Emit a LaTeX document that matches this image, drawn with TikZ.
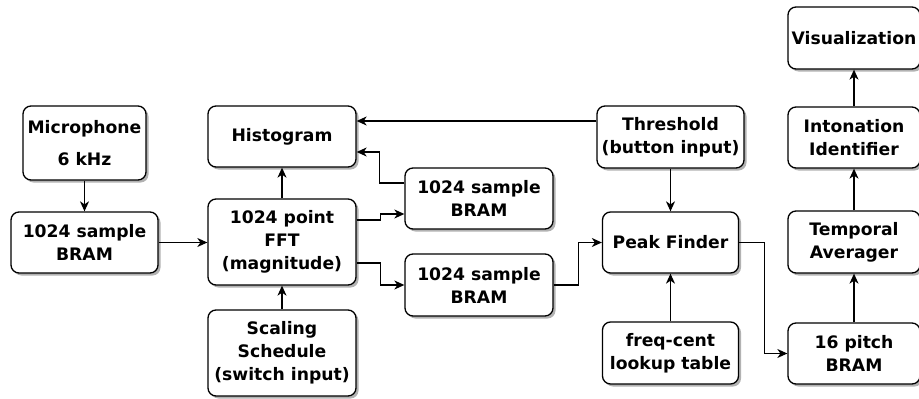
\documentclass[tikz,border=0pt]{standalone}
\usepackage{fontspec}
\setmainfont{DejaVu Sans}
\usetikzlibrary{arrows.meta,shadows}
\begin{document}
\begin{tikzpicture}[x=1pt,y=-1pt,
  blk/.style={draw=black,line width=1.3pt,rounded corners=8pt,fill=white,
    align=center,inner sep=0pt,
    font=\fontsize{17.2}{23}\selectfont\bfseries,
    drop shadow={shadow xshift=2.5pt,shadow yshift=-2.5pt,opacity=0.3,fill=black}},
  arr/.style={line width=1.2pt,-{Stealth[length=10pt,width=9pt,inset=3pt]}}]
\useasboundingbox (0,0) rectangle (919,399);
\node[blk,minimum width=123pt,minimum height=74pt] (mic) at (84.5,143) {Microphone\\[9pt]6 kHz};
\node[blk,minimum width=147pt,minimum height=61pt] (bramL) at (84.5,242.5) {1024 sample\\BRAM};
\node[blk,minimum width=148pt,minimum height=61pt] (hist) at (282,136.5) {Histogram};
\node[blk,minimum width=148pt,minimum height=86pt] (fft) at (282,242) {1024 point\\FFT\\(magnitude)};
\node[blk,minimum width=148pt,minimum height=86pt] (scal) at (282,353) {Scaling\\Schedule\\(switch input)};
\node[blk,minimum width=148pt,minimum height=61pt] (bramA) at (479,198.5) {1024 sample\\BRAM};
\node[blk,minimum width=148pt,minimum height=62pt] (bramB) at (479,285) {1024 sample\\BRAM};
\node[blk,minimum width=147pt,minimum height=62pt] (thr) at (670.5,137) {Threshold\\(button input)};
\node[blk,minimum width=136pt,minimum height=61pt] (peak) at (670.5,242.5) {Peak Finder};
\node[blk,minimum width=136pt,minimum height=62pt] (freq) at (670.5,353) {freq-cent\\lookup table};
\node[blk,minimum width=132pt,minimum height=62pt] (vis) at (854,38) {Visualization};
\node[blk,minimum width=132pt,minimum height=61pt] (inton) at (854,137.5) {Intonation\\Identifier};
\node[blk,minimum width=132pt,minimum height=62pt] (temp) at (854,242) {Temporal\\Averager};
\node[blk,minimum width=132pt,minimum height=61pt] (pitch) at (854,353.5) {16 pitch\\BRAM};

\draw[arr] (mic) -- (bramL);
\draw[arr] (bramL) -- (bramL.east -| fft.west);
\draw[arr] (fft) -- (hist);
\draw[arr] (scal) -- (fft);
\draw[arr] ([yshift=16pt]thr.west) -- ([yshift=16pt]thr.west -| hist.east);
\draw[arr] ([yshift=15.5pt]bramA.west) -- ++(-25,0) |- ([yshift=-15.5pt]hist.east);
\draw[arr] ([yshift=22pt]fft.east) -- ++(24,0) |- ([yshift=-15.5pt]bramA.west);
\draw[arr] ([yshift=-21pt]fft.east) -- ++(24,0) |- (bramB.west);
\draw[arr] (bramB.east) -- ++(25,0) |- (peak.west);
\draw[arr] (thr) -- (peak);
\draw[arr] (freq) -- (peak);
\draw[arr] (peak.east) -- ++(25,0) |- (pitch.west);
\draw[arr] (pitch) -- (temp);
\draw[arr] (temp) -- (inton);
\draw[arr] (inton) -- (vis);
\end{tikzpicture}
\end{document}
